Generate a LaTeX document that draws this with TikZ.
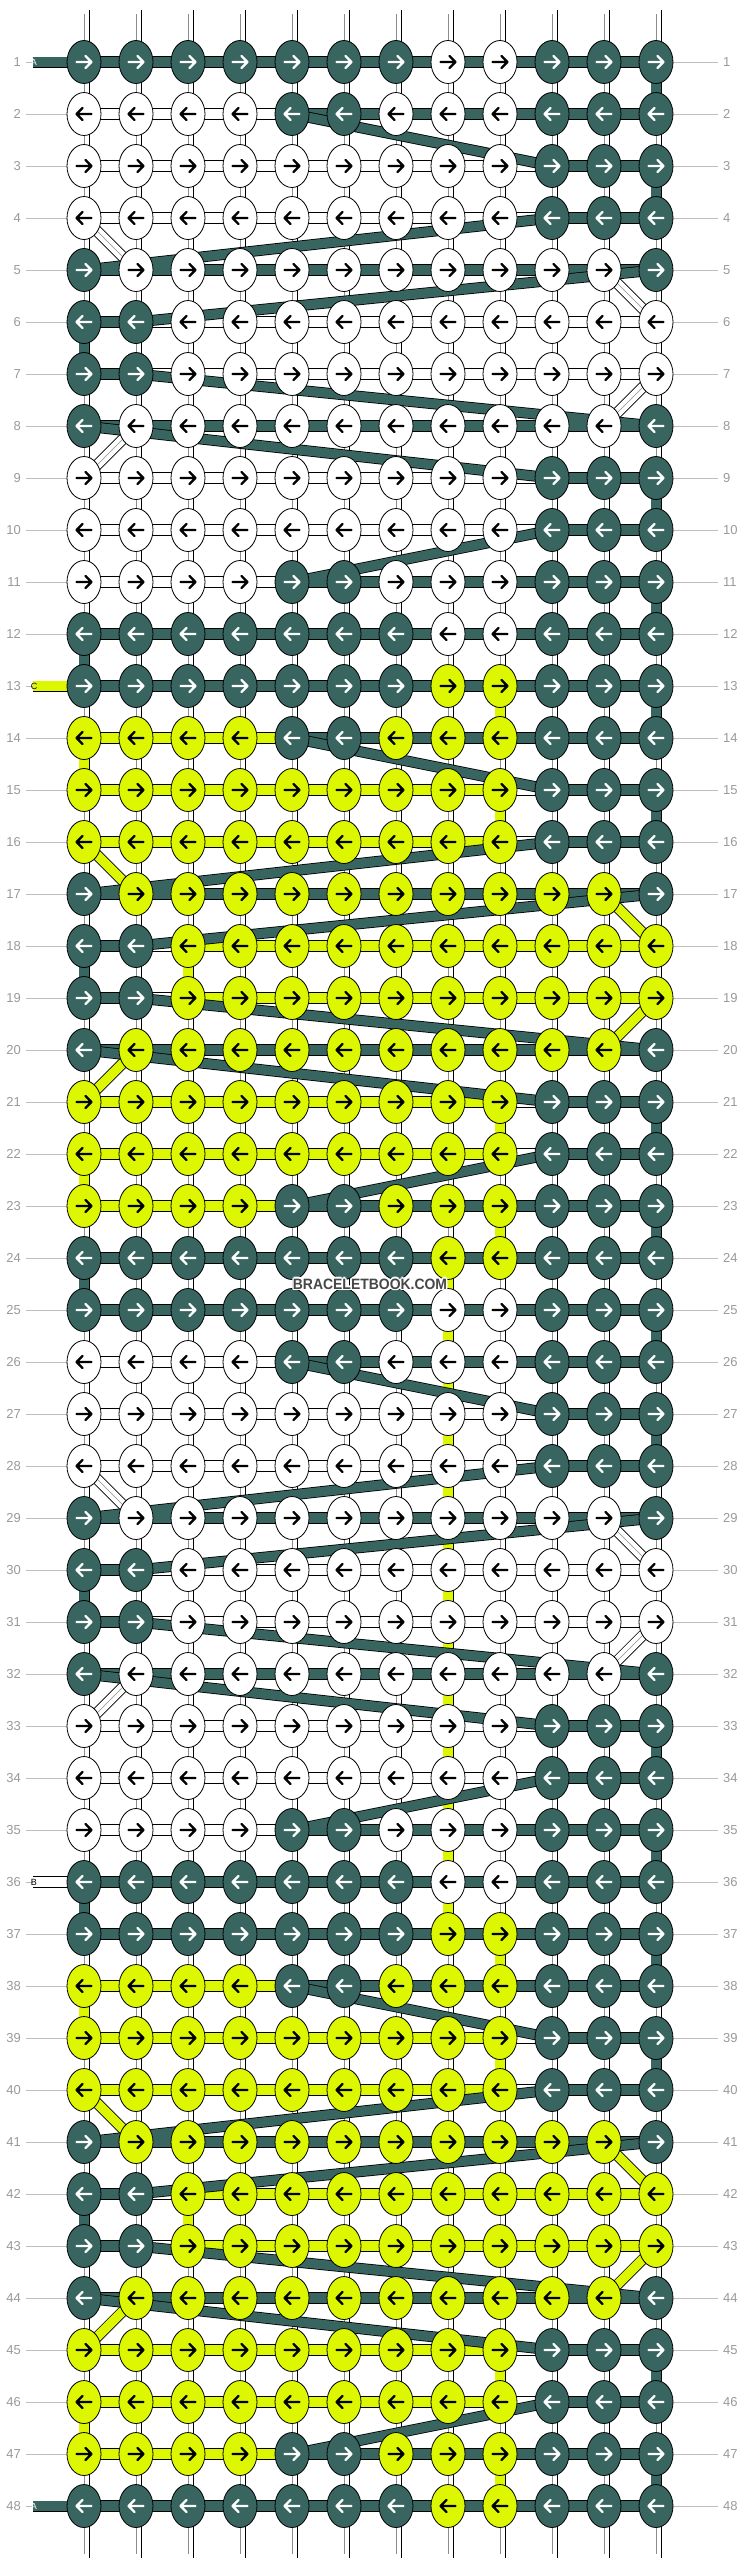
\documentclass[tikz,border=0pt]{standalone}
\usepackage{fontspec}
\setmainfont{Liberation Sans}
\usetikzlibrary{shapes.geometric}
\definecolor{darkthread}{HTML}{386560}
\definecolor{limethread}{HTML}{DDF700}
\definecolor{numgray}{HTML}{9A9A9A}
\definecolor{linegray}{HTML}{BDBDBD}
\pgfdeclarelayer{strands}
\pgfdeclarelayer{threads}
\pgfsetlayers{strands,threads,main}
\tikzset{
  knot/.style={ellipse,draw=black,line width=0.8pt,minimum width=34pt,minimum height=43pt,inner sep=0pt},
  knotD/.style={knot,fill=darkthread},
  knotW/.style={knot,fill=white},
  knotY/.style={knot,fill=limethread},
  tipD/.style={draw=white},
  tipW/.style={draw=black},
  tipY/.style={draw=black},
  strand/.style={draw=black,line width=0.8pt,double=white,double distance=9.4pt},
  midline/.style={draw=black!45,line width=0.5pt},
  barW/.style={draw=black,line width=0.8pt,double=white,double distance=10.2pt},
  thrD/.style={draw=black,line width=0.8pt,double=darkthread,double distance=9.4pt},
  thrY/.style={draw=black,line width=0.8pt,double=limethread,double distance=9.4pt},
  rownum/.style={text=numgray,inner sep=0pt,font=\fontsize{13}{13}\selectfont},
  rowline/.style={draw=linegray,line width=1pt},
  tablabel/.style={inner sep=0pt,font=\fontsize{9}{9}\selectfont},
  watermark/.style={inner sep=0pt,font=\bfseries\fontsize{15}{15}\selectfont}
}
\begin{document}
\begin{tikzpicture}[line cap=round,line join=round,x=1pt,y=-1pt]
\path[use as bounding box] (0,0) rectangle (740,2568);

% knots (rows 25-48 repeat rows 1-24)
\foreach \o in {0,24} {
\foreach \rw/\knots in {
  1/{D,D,D,D,D,D,D,W,W,D,D,D},
  2/{W,W,W,W,D,D,W,W,W,D,D,D},
  3/{W,W,W,W,W,W,W,W,W,D,D,D},
  4/{W,W,W,W,W,W,W,W,W,D,D,D},
  5/{D,W,W,W,W,W,W,W,W,W,W,D},
  6/{D,D,W,W,W,W,W,W,W,W,W,W},
  7/{D,D,W,W,W,W,W,W,W,W,W,W},
  8/{D,W,W,W,W,W,W,W,W,W,W,D},
  9/{W,W,W,W,W,W,W,W,W,D,D,D},
  10/{W,W,W,W,W,W,W,W,W,D,D,D},
  11/{W,W,W,W,D,D,W,W,W,D,D,D},
  12/{D,D,D,D,D,D,D,W,W,D,D,D},
  13/{D,D,D,D,D,D,D,Y,Y,D,D,D},
  14/{Y,Y,Y,Y,D,D,Y,Y,Y,D,D,D},
  15/{Y,Y,Y,Y,Y,Y,Y,Y,Y,D,D,D},
  16/{Y,Y,Y,Y,Y,Y,Y,Y,Y,D,D,D},
  17/{D,Y,Y,Y,Y,Y,Y,Y,Y,Y,Y,D},
  18/{D,D,Y,Y,Y,Y,Y,Y,Y,Y,Y,Y},
  19/{D,D,Y,Y,Y,Y,Y,Y,Y,Y,Y,Y},
  20/{D,Y,Y,Y,Y,Y,Y,Y,Y,Y,Y,D},
  21/{Y,Y,Y,Y,Y,Y,Y,Y,Y,D,D,D},
  22/{Y,Y,Y,Y,Y,Y,Y,Y,Y,D,D,D},
  23/{Y,Y,Y,Y,D,D,Y,Y,Y,D,D,D},
  24/{D,D,D,D,D,D,D,Y,Y,D,D,D}} {
  \pgfmathtruncatemacro\rr{\rw+\o}
  \pgfmathtruncatemacro\dir{1-2*mod(\rr+1,2)}
  \foreach \k [count=\cl] in \knots {
    \node[knot\k] (k-\rr-\cl) at ({32+52*\cl},{10+52*\rr}) {};
    \begin{scope}[shift={(k-\rr-\cl.center)},xscale=\dir]
      \draw[tip\k,line width=2.3pt] (-7.5,0) -- (7,0) (1.5,-6) -- (7.5,0) -- (1.5,6);
    \end{scope}
  }
}}

% row numbers
\foreach \rw in {1,...,48} {
  \node[rownum,anchor=east] (num-l-\rw) at (21,{10+52*\rw}) {\rw};
  \node[rownum,anchor=west] (num-r-\rw) at (723,{10+52*\rw}) {\rw};
}

\begin{pgfonlayer}{strands}
\fill[white] (0,0) rectangle (740,2568);
% loose ends top and bottom
\foreach \cl in {1,...,12} {
  \coordinate (top-\cl) at ({32+52*\cl},10);
  \coordinate (bot-\cl) at ({32+52*\cl},2558);
  \draw[strand] (top-\cl) -- (k-1-\cl.center);
  \draw[midline] ([yshift=-4pt]top-\cl) -- (k-1-\cl.center);
  \draw[strand] (k-48-\cl.center) -- (bot-\cl);
  \draw[midline] (k-48-\cl.center) -- ([yshift=4pt]bot-\cl);
}
% base strings between rows
\foreach \rw in {1,...,47} {
  \pgfmathtruncatemacro\rn{\rw+1}
  \foreach \cl in {1,...,12} {
    \draw[strand] (k-\rw-\cl.center) -- (k-\rn-\cl.center);
    \draw[midline] (k-\rw-\cl.center) -- (k-\rn-\cl.center);
  }
}
% white bars in the rows
\foreach \rw in {1,...,48} {
  \foreach \cl in {1,...,11} {
    \pgfmathtruncatemacro\cn{\cl+1}
    \draw[barW] (k-\rw-\cl.center) -- (k-\rw-\cn.center);
  }
}
% shifted base strings
\foreach \o in {0,24} {
  \foreach \ra/\ca/\rb/\cb in {4/1/5/2, 5/11/6/12, 7/12/8/11, 8/2/9/1} {
    \pgfmathtruncatemacro\ia{\ra+\o}
    \pgfmathtruncatemacro\ib{\rb+\o}
    \draw[strand] (k-\ia-\ca.center) -- (k-\ib-\cb.center);
    \draw[midline] (k-\ia-\ca.center) -- (k-\ib-\cb.center);
  }
}
% row lines
\foreach \rw in {1,...,48} {
  \draw[rowline] ([xshift=5pt]num-l-\rw.east) -- (k-\rw-1.west);
  \draw[rowline] (k-\rw-12.east) -- ([xshift=-5pt]num-r-\rw.west);
}
\coordinate (end-b) at (32.5,1882);
\draw[barW] (end-b) -- (k-36-1.center);
\end{pgfonlayer}

\begin{pgfonlayer}{threads}
% thread C
\coordinate (end-c) at (32.5,686);
\draw[thrY] (end-c) -- (k-13-1.center);
\foreach \o in {0,24} {
  \foreach \ra/\ca/\rb/\cb in {13/1/13/9, 13/9/14/9, 14/9/14/1, 14/1/15/1, 15/1/15/9,
      15/9/16/9, 16/9/16/1, 16/1/17/2, 17/2/17/11, 17/11/18/12, 18/12/18/3, 18/3/19/3,
      19/3/19/12, 19/12/20/11, 20/11/20/2, 20/2/21/1, 21/1/21/9, 21/9/22/9, 22/9/22/1,
      22/1/23/1, 23/1/23/9, 23/9/24/9, 24/9/24/8} {
    \pgfmathtruncatemacro\ia{\ra+\o}
    \pgfmathtruncatemacro\ib{\rb+\o}
    \draw[thrY] (k-\ia-\ca.center) -- (k-\ib-\cb.center);
  }
}
\draw[thrY] (k-24-8.center) -- (k-37-8.center);
% thread A
\coordinate (end-a1) at (32.5,62);
\coordinate (end-a48) at (32.5,2506);
\draw[thrD] (end-a1) -- (k-1-1.center);
\foreach \o in {0,12,24,36} {
  \foreach \ra/\ca/\rb/\cb in {1/1/1/12, 1/12/2/12, 2/12/2/5, 2/5/3/10, 3/10/3/12,
      3/12/4/12, 4/12/4/10, 4/10/5/1, 5/1/5/12, 5/12/6/2, 6/2/6/1, 6/1/7/1, 7/1/7/2,
      7/2/8/12, 8/12/8/1, 8/1/9/10, 9/10/9/12, 9/12/10/12, 10/12/10/10, 10/10/11/5,
      11/5/11/12, 11/12/12/12, 12/12/12/1, 12/1/13/1} {
    \pgfmathtruncatemacro\ia{\ra+\o}
    \pgfmathtruncatemacro\ib{\rb+\o}
    \ifnum\ib<49 \draw[thrD] (k-\ia-\ca.center) -- (k-\ib-\cb.center); \fi
  }
}
\draw[thrD] (k-48-1.center) -- (end-a48);
\end{pgfonlayer}

\node[tablabel,text=white] (tab-a1) at (34,62) {A};
\node[tablabel,text=white] (tab-a48) at (34,2506) {A};
\node[tablabel] (tab-c) at (34,686) {C};
\node[tablabel] (tab-b) at (34,1882) {B};

% watermark
\foreach \dx/\dy [count=\h] in {-1.3/0, 1.3/0, 0/-1.3, 0/1.3, -1/-1, 1/1, -1/1, 1/-1} {
  \node[watermark,text=white] (wm-\h) at ({370+\dx},{1284+\dy}) {\scalebox{0.93}[1]{BRACELETBOOK.COM}};
}
\node[watermark,text=black!72] (wm) at (370,1284) {\scalebox{0.93}[1]{BRACELETBOOK.COM}};
\end{tikzpicture}
\end{document}
